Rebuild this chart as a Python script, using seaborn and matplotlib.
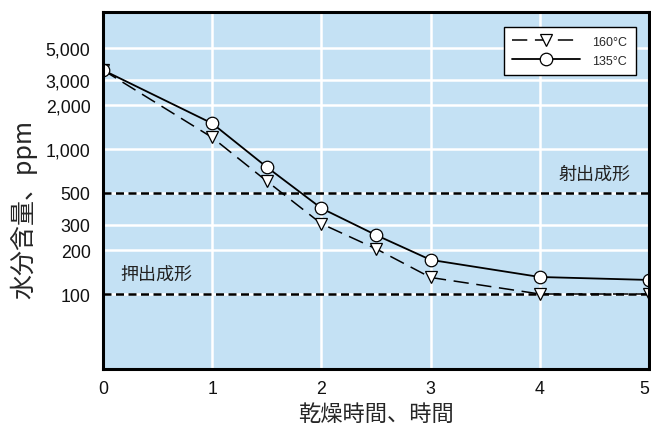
import matplotlib
matplotlib.use("Agg")
import matplotlib.pyplot as plt
import seaborn as sns
import pandas as pd
from matplotlib.ticker import FixedLocator, FixedFormatter, NullLocator

# Moisture content (ppm) versus drying time (hours) at two drying temperatures
hours = [0, 1, 1.5, 2, 2.5, 3, 4, 5]
ppm_160 = [3500, 1200, 600, 305, 205, 130, 100, 100]
ppm_135 = [3500, 1500, 750, 390, 255, 172, 131, 125]
series_labels = ["160°C", "135°C"]

# Process moisture limits
limit_values = [500, 100]
limit_labels = ["射出成形", "押出成形"]

y_ticks = [100, 200, 300, 500, 1000, 2000, 3000, 5000]
y_tick_labels = ["100", "200", "300", "500", "1,000", "2,000", "3,000", "5,000"]
x_ticks = [0, 1, 2, 3, 4, 5]
x_tick_labels = ["0", "1", "2", "3", "4", "5"]

x_title = "乾燥時間、時間"
y_title = "水分含量、ppm"

sns.set_style("white")
plt.rcParams["font.family"] = ["Liberation Sans", "Noto Sans CJK JP", "DejaVu Sans"]
cjk = ["Noto Sans CJK JP", "DejaVu Sans"]

fig = plt.figure(figsize=(6.51, 4.27), dpi=100)
ax = fig.add_axes([103 / 651, 1 - 370 / 427, 546 / 651, 357 / 427])
ax.set_facecolor("#C4E1F4")

df = pd.DataFrame({
    "hours": hours * 2,
    "ppm": ppm_160 + ppm_135,
    "temp": [series_labels[0]] * len(hours) + [series_labels[1]] * len(hours),
})

sns.lineplot(data=df[df["temp"] == series_labels[0]], x="hours", y="ppm",
             ax=ax, color="black", lw=1.1, linestyle=(0, (10, 5)),
             marker="v", markersize=8.5, markerfacecolor="white",
             markeredgecolor="black", markeredgewidth=0.9,
             label=series_labels[0], errorbar=None, sort=False, zorder=4)
sns.lineplot(data=df[df["temp"] == series_labels[1]], x="hours", y="ppm",
             ax=ax, color="black", lw=1.3, linestyle="-",
             marker="o", markersize=9, markerfacecolor="white",
             markeredgecolor="black", markeredgewidth=0.9,
             label=series_labels[1], errorbar=None, sort=False, zorder=5)

# Dashed limit lines with labels
for val in limit_values:
    ax.axhline(val, color="black", lw=1.8, linestyle=(0, (3.2, 1.8)), zorder=3)
ax.text(4.505, 673, limit_labels[0], fontsize=13, family=cjk,
        ha="center", va="center", color="#222222", zorder=6)
ax.text(0.49, 137, limit_labels[1], fontsize=13, family=cjk,
        ha="center", va="center", color="#222222", zorder=6)

ax.set_yscale("log")
ax.set_xlim(0, 5)
ax.set_ylim(30.4, 8800)
ax.yaxis.set_major_locator(FixedLocator(y_ticks))
ax.yaxis.set_major_formatter(FixedFormatter(y_tick_labels))
ax.yaxis.set_minor_locator(NullLocator())
ax.set_xticks(x_ticks)
ax.set_xticklabels(x_tick_labels)
ax.tick_params(axis="both", length=0, labelsize=12.8, colors="#111111")
ax.tick_params(axis="y", pad=9)
ax.tick_params(axis="x", pad=8)
ax.get_xticklabels()[-1].set_horizontalalignment("right")

ax.grid(True, color="white", lw=1.8, zorder=1)
ax.set_axisbelow(True)

for spine in ax.spines.values():
    spine.set_color("black")
    spine.set_linewidth(2.2)
    spine.set_zorder(7)

ax.set_xlabel(x_title, fontsize=16, family=cjk)
ax.set_ylabel(y_title, fontsize=18, family=cjk)
ax.yaxis.set_label_coords(-0.121, 0.45)
ax.xaxis.set_label_coords(0.5, -0.093)

leg = ax.legend(loc="upper right", bbox_to_anchor=(1 - 13 / 546, 1 - 15 / 357),
                borderaxespad=0, fontsize=9, frameon=True, fancybox=False,
                handlelength=5.4, handletextpad=1.0, borderpad=0.7,
                labelspacing=0.55)
leg.get_frame().set_edgecolor("black")
leg.get_frame().set_facecolor("white")
leg.get_frame().set_linewidth(1.0)
leg.get_frame().set_alpha(1)

fig.savefig("out.png", dpi=100)
